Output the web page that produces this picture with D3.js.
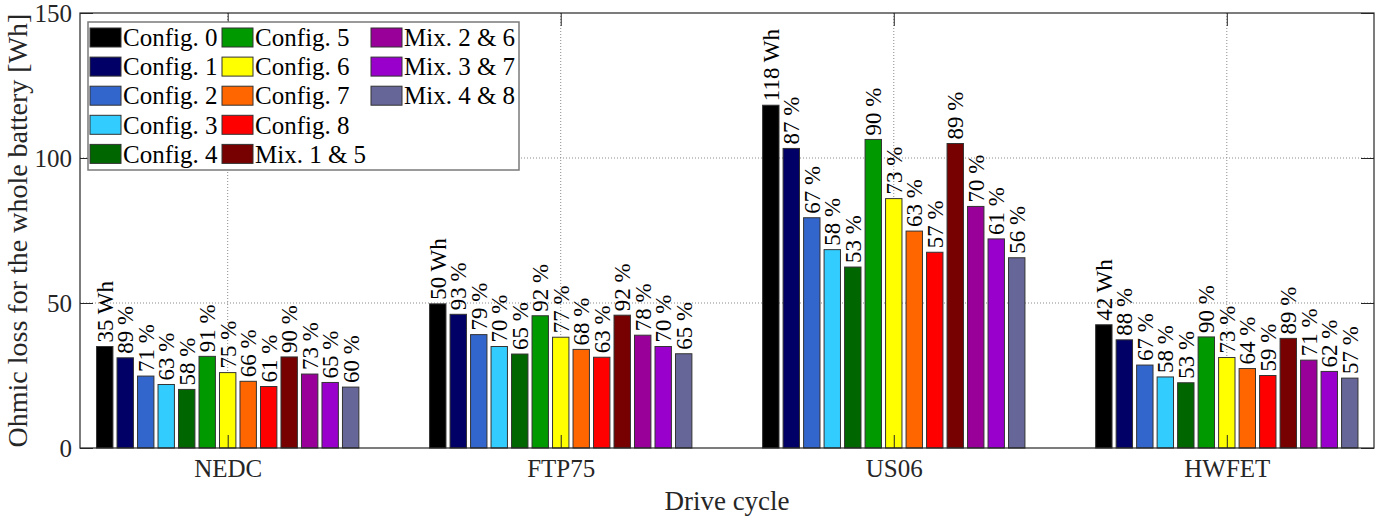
<!DOCTYPE html>
<html><head><meta charset="utf-8">
<script src="https://cdn.jsdelivr.net/npm/d3@7"></script>
<style>body{margin:0;background:#fff} svg{display:block}</style>
</head><body><svg id="c" width="1381" height="517"></svg>
<script>
const categories = ["NEDC", "FTP75", "US06", "HWFET"];
const seriesNames = ["Config. 0","Config. 1","Config. 2","Config. 3","Config. 4","Config. 5","Config. 6","Config. 7","Config. 8","Mix. 1 & 5","Mix. 2 & 6","Mix. 3 & 7","Mix. 4 & 8"];
const seriesColors = ["#000000","#000066","#3366cc","#33ccff","#006600","#009900","#ffff00","#ff6600","#ff0000","#770000","#990099","#9900cc","#666699"];
const nedc  = [35.0, 31.1, 24.8, 21.9, 20.2, 31.6, 26.0, 23.0, 21.2, 31.4, 25.5, 22.6, 21.0];
const ftp75 = [49.7, 46.1, 39.1, 35.0, 32.4, 45.6, 38.2, 34.0, 31.3, 45.8, 38.9, 35.0, 32.5];
const us06  = [118.2, 103.3, 79.4, 68.4, 62.4, 106.4, 86.0, 74.8, 67.5, 105.0, 83.3, 72.1, 65.6];
const hwfet = [42.5, 37.3, 28.6, 24.5, 22.5, 38.3, 31.2, 27.4, 25.0, 37.8, 30.3, 26.4, 24.1];
const baseLabels = ["35 Wh", "50 Wh", "118 Wh", "42 Wh"];
const nedcPct  = [89, 71, 63, 58, 91, 75, 66, 61, 90, 73, 65, 60];
const ftp75Pct = [93, 79, 70, 65, 92, 77, 68, 63, 92, 78, 70, 65];
const us06Pct  = [87, 67, 58, 53, 90, 73, 63, 57, 89, 70, 61, 56];
const hwfetPct = [88, 67, 58, 53, 90, 73, 64, 59, 89, 71, 62, 57];
const yTicks = [0, 50, 100, 150];
const xTitle = "Drive cycle";
const yTitle = "Ohmic loss for the whole battery [Wh]";

const values = [nedc, ftp75, us06, hwfet];
const pcts = [nedcPct, ftp75Pct, us06Pct, hwfetPct];

const FONT = '"Liberation Serif","Times New Roman",serif';
const svg = d3.select("#c");
const L = 80, R = 1374, T = 13, B = 448;
const x = d3.scaleLinear().domain([0.5565, 4.442]).range([L, R]);
const y = d3.scaleLinear().domain([0, 150]).range([B, T]);
const inner = d3.scaleBand().domain(d3.range(seriesNames.length)).range([-0.4, 0.4]).paddingInner(0.2).paddingOuter(0.1);
const catPos = categories.map((c, i) => i + 1);

// grid
const gridG = svg.append("g");
gridG.selectAll("line.v").data(catPos).join("line")
  .attr("x1", d => x(d)).attr("x2", d => x(d)).attr("y1", T).attr("y2", B)
  .attr("stroke", "#8a8a8a").attr("stroke-width", 1).attr("stroke-dasharray", "1,2");
gridG.selectAll("line.h").data(yTicks.filter(t => t > 0 && t < 150)).join("line")
  .attr("x1", L).attr("x2", R).attr("y1", d => y(d)).attr("y2", d => y(d))
  .attr("stroke", "#8a8a8a").attr("stroke-width", 1).attr("stroke-dasharray", "1,2");

// bars
const barData = [];
categories.forEach((c, ci) => {
  values[ci].forEach((v, si) => {
    const label = si === 0 ? baseLabels[ci] : pcts[ci][si - 1] + " %";
    barData.push({ci, si, v, label});
  });
});
const bw = x(inner.bandwidth()) - x(0);
svg.append("g").selectAll("rect").data(barData).join("rect")
  .attr("x", d => x(catPos[d.ci] + inner(d.si)))
  .attr("width", bw)
  .attr("y", d => y(d.v))
  .attr("height", d => y(0) - y(d.v))
  .attr("fill", d => seriesColors[d.si])
  .attr("stroke", "#333").attr("stroke-width", 1);

// labels
svg.append("g").selectAll("text").data(barData).join("text")
  .attr("transform", d => `translate(${x(catPos[d.ci] + inner(d.si) + inner.bandwidth() / 2)},${y(d.v) - 4}) rotate(-90)`)
  .attr("dy", "0.35em")
  .attr("text-anchor", "start")
  .style("font-family", FONT).style("font-size", "23px").attr("fill", "#000")
  .text(d => d.label);

// axes
const axCol = "#262626";
const gL = svg.append("g").attr("transform", `translate(${L},0)`)
  .call(d3.axisLeft(y).tickValues(yTicks).tickSizeInner(-13).tickSizeOuter(0).tickPadding(8).tickFormat(d3.format("d")));
const gR = svg.append("g").attr("transform", `translate(${R},0)`)
  .call(d3.axisRight(y).tickValues(yTicks).tickSizeInner(-13).tickSizeOuter(0).tickFormat(""));
const gB = svg.append("g").attr("transform", `translate(0,${B})`)
  .call(d3.axisBottom(x).tickValues(catPos).tickSizeInner(-13).tickSizeOuter(0).tickPadding(11).tickFormat((d, i) => categories[i]));
const gT = svg.append("g").attr("transform", `translate(0,${T})`)
  .call(d3.axisTop(x).tickValues(catPos).tickSizeInner(-13).tickSizeOuter(0).tickFormat(""));
[gL, gR, gB, gT].forEach(g => {
  g.select(".domain").remove();
  g.attr("font-family", null).attr("font-size", null);
  g.selectAll(".tick line").attr("stroke", axCol).attr("stroke-width", 1);
  g.selectAll(".tick text").style("font-family", FONT).style("font-size", "25px").attr("fill", axCol);
});
gB.selectAll(".tick text").attr("dy", "0.71em");
gL.selectAll(".tick text").attr("dy", "0.32em");
svg.append("rect").attr("x", L).attr("y", T).attr("width", R - L).attr("height", B - T)
  .attr("fill", "none").attr("stroke", axCol).attr("stroke-width", 1.2);

// axis titles
svg.append("text").attr("x", (L + R) / 2).attr("y", 510).attr("text-anchor", "middle")
  .style("font-family", FONT).style("font-size", "27px").attr("fill", axCol).text(xTitle);
svg.append("text").attr("transform", `translate(27,${(T + B) / 2}) rotate(-90)`).attr("text-anchor", "middle")
  .style("font-family", FONT).style("font-size", "28px").attr("fill", axCol).text(yTitle);

// legend
const lg = svg.append("g");
lg.append("rect").attr("x", 88).attr("y", 22).attr("width", 431).attr("height", 148)
  .attr("fill", "#fff").attr("stroke", "#7a7a7a").attr("stroke-width", 1.5);
const colX = [90, 222, 371];
const rowsPerCol = 5;
const legendItems = lg.selectAll("g.item").data(seriesNames).join("g")
  .attr("transform", (d, i) => `translate(${colX[Math.floor(i / rowsPerCol)]},${37.5 + (i % rowsPerCol) * 29.1})`);
legendItems.append("rect").attr("x", 0).attr("y", -9.5).attr("width", 31).attr("height", 19)
  .attr("fill", (d, i) => seriesColors[i]).attr("stroke", "#333").attr("stroke-width", 1);
legendItems.append("text").attr("x", 33).attr("dy", "0.35em")
  .style("font-family", FONT).style("font-size", "25px").attr("fill", "#000").text(d => d);
</script></body></html>
